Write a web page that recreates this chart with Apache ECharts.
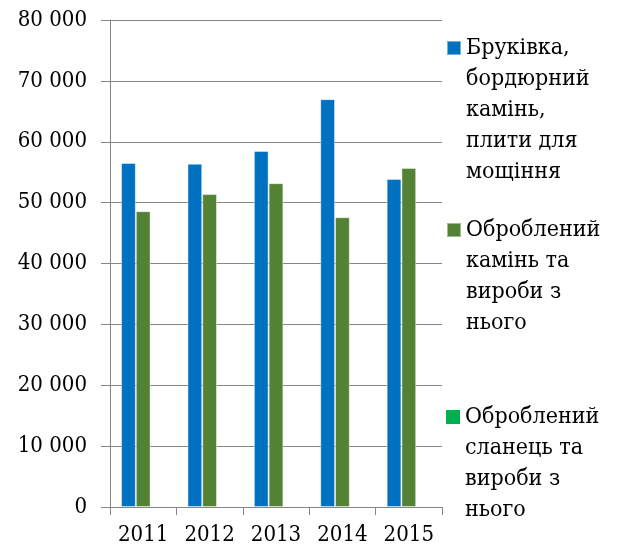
<!DOCTYPE html>
<html>
<head>
<meta charset="utf-8">
<script src="https://cdn.jsdelivr.net/npm/echarts@6/dist/echarts.min.js"></script>
<style>
  html, body { margin: 0; padding: 0; background: #fff; }
  #chart { width: 622px; height: 552px; }
</style>
</head>
<body>
<div id="chart"></div>
<script>
// роки
const years = ['2011', '2012', '2013', '2014', '2015']
// назви серій
const names = [
  'Бруківка, бордюрний камінь, плити для мощіння',
  'Оброблений камінь та вироби з нього',
  'Оброблений сланець та вироби з нього'
]
// як розбити назви в легенді
const legendLines = [
  ['Бруківка,', 'бордюрний', 'камінь,', 'плити для', 'мощіння'],
  ['Оброблений', 'камінь та', 'вироби з', 'нього'],
  ['Оброблений', 'сланець та', 'вироби з', 'нього']
]
const paving = [56500, 56400, 58500, 67000, 53900]
const stone = [48600, 51400, 53200, 47600, 55700]
const slate = [0, 0, 0, 0, 0]
const yTicks = [0, 10000, 20000, 30000, 40000, 50000, 60000, 70000, 80000]

const colors = ['#0070C0', '#548235', '#00B050']
const font = 'DejaVu Serif Condensed, DejaVu Serif'
const lh = 31
// центр значка кожного пункту легенди
const legendCenters = [48, 230, 417]

function fmt(v) {
  return String(v).replace(/\B(?=(\d{3})+(?!\d))/g, ' ')
}

const chart = echarts.init(document.getElementById('chart'), null, { renderer: 'canvas' })

// rich-текст: порожній рядок зверху, щоб значок стояв біля першого рядка
const legends = names.map((name, i) => {
  const n = legendLines[i].length
  const pad = (n - 1) * lh
  return {
    orient: 'vertical',
    left: 446,
    top: legendCenters[i] - (2 * n - 1) * lh / 2,
    padding: 0,
    itemWidth: 14,
    itemHeight: 14,
    icon: 'rect',
    selectedMode: false,
    data: [name],
    formatter: () => '{pad|\u200b}\n' + legendLines[i].map(s => '{t|' + s + '}').join('\n'),
    textStyle: {
      fontFamily: font,
      fontSize: 23,
      color: '#000',
      lineHeight: lh,
      rich: {
        pad: { height: pad, lineHeight: pad, fontSize: 1 },
        t: { fontFamily: font, fontSize: 23, color: '#000', lineHeight: lh }
      }
    }
  }
})

chart.setOption({
  animation: false,
  color: colors,
  legend: legends,
  grid: {
    left: 110,
    right: 180,
    top: 20,
    bottom: 45
  },
  xAxis: {
    type: 'category',
    data: years,
    axisLine: { lineStyle: { color: '#868686', width: 1 } },
    axisTick: { show: true, length: 8, lineStyle: { color: '#868686' } },
    axisLabel: {
      fontFamily: font,
      fontSize: 22,
      color: '#000',
      margin: 17
    }
  },
  yAxis: {
    type: 'value',
    min: yTicks[0],
    max: yTicks[yTicks.length - 1],
    interval: 10000,
    axisLine: { show: true, lineStyle: { color: '#868686', width: 1 } },
    axisTick: { show: true, length: 9, lineStyle: { color: '#868686' } },
    splitLine: { lineStyle: { color: '#868686', width: 1 } },
    axisLabel: {
      fontFamily: font,
      fontSize: 22,
      color: '#000',
      margin: 23,
      formatter: fmt
    }
  },
  series: [paving, stone, slate].map((d, i) => ({
    name: names[i],
    type: 'bar',
    data: d,
    barGap: '0%',
    barCategoryGap: '33.3%',
    itemStyle: {
      color: colors[i],
      borderColor: 'rgba(255,255,255,0.45)',
      borderWidth: i < 2 ? 1 : 0
    }
  }))
})
</script>
</body>
</html>
